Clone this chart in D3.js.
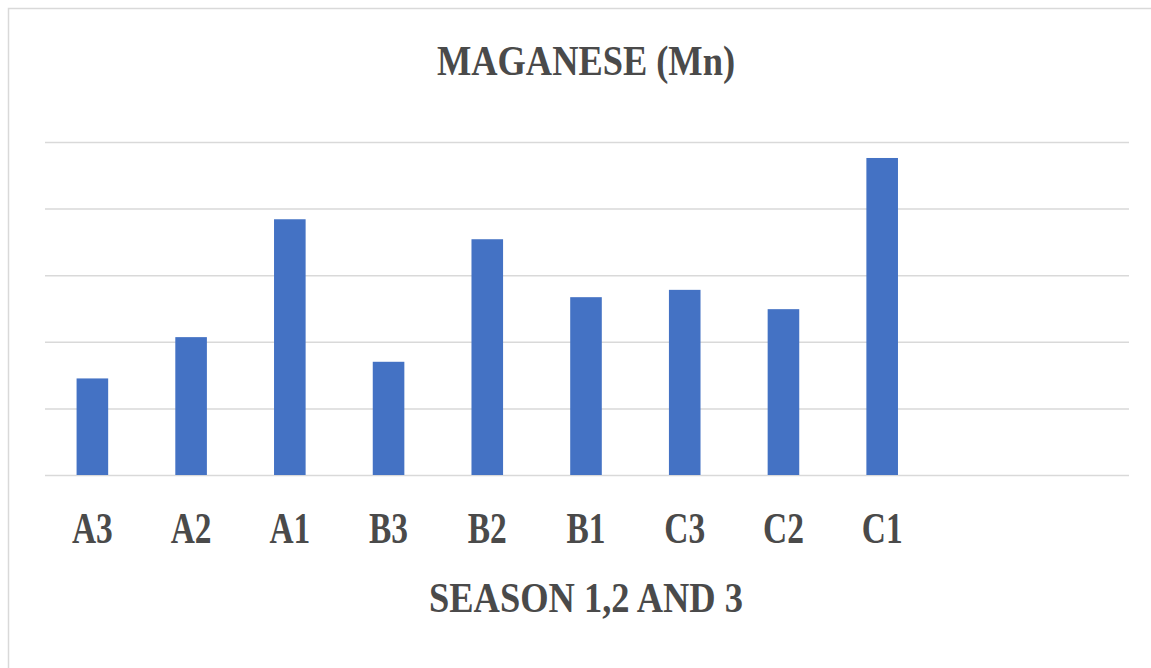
<!DOCTYPE html>
<html>
<head>
 <meta charset="UTF-8">
 <title>Maganese (Mn)</title>
 <script src="https://d3js.org/d3.v7.min.js"></script>
 <style>
  body { margin: 0; background: #fff; }
  text { font-family: "Liberation Serif", "Times New Roman", serif; font-weight: bold; fill: #4a4a4a; }
 </style>
</head>
<body>
	<script type="text/javascript">
		// values (grid step = 1 unit, no y labels shown)
		var categories = ["A3", "A2", "A1", "B3", "B2", "B1", "C3", "C2", "C1"];
		var values = [1.45, 2.07, 3.84, 1.70, 3.54, 2.67, 2.78, 2.49, 4.76];
		var yTicks = [0, 1, 2, 3, 4, 5];
		var slots = 11; // the category axis leaves two empty slots on the right

		var width = 1151;
		var height = 668;
		var plotLeft = 45, plotRight = 1129, plotTop = 142, plotBottom = 475;

		var svg = d3.select('body').append('svg')
			.attr('width', width)
			.attr('height', height);

		// chart frame
		svg.append('rect')
			.attr('x', 8.5).attr('y', 8.5)
			.attr('width', 1160).attr('height', 700)
			.attr('fill', '#fff')
			.attr('stroke', '#d9d9d9')
			.attr('stroke-width', 1.5);

		var x = d3.scaleBand()
			.domain(d3.range(slots))
			.range([plotLeft, plotRight])
			.paddingInner(0.68)
			.paddingOuter(0.33);

		var y = d3.scaleLinear()
			.domain([0, 5])
			.range([plotBottom, plotTop]);

		// gridlines
		var grid = svg.append('g')
			.attr('transform', 'translate(' + plotLeft + ',0)')
			.call(d3.axisLeft(y).tickValues(yTicks).tickSize(-(plotRight - plotLeft)).tickFormat(''));
		grid.select('.domain').remove();
		grid.selectAll('line').attr('stroke', '#d9d9d9').attr('stroke-width', 1.5);

		// bars
		svg.selectAll('rect.bar')
			.data(values)
			.enter()
			.append('rect')
			.attr('class', 'bar')
			.attr('x', function (d, i) { return x(i) - 1; })
			.attr('y', function (d) { return y(d); })
			.attr('width', x.bandwidth())
			.attr('height', function (d) { return y(0) - y(d); })
			.attr('fill', '#4472c4');

		// category labels
		var xAxis = svg.append('g')
			.attr('transform', 'translate(-1,' + plotBottom + ')')
			.call(d3.axisBottom(x).tickSize(0).tickPadding(0)
				.tickFormat(function (i) { return categories[i] || ''; }));
		xAxis.select('.domain').remove();
		xAxis.selectAll('text')
			.attr('y', 68)
			.attr('dy', 0)
			.attr('transform', 'scale(0.76,1)')
			.style('font-size', '44px')
			.style('font-family', '"Liberation Serif", serif')
			.attr('fill', '#4a4a4a');

		// title
		svg.append('text')
			.attr('x', 586)
			.attr('y', 75)
			.attr('text-anchor', 'middle')
			.attr('textLength', 298)
			.attr('lengthAdjust', 'spacingAndGlyphs')
			.style('font-size', '42px')
			.text('MAGANESE (Mn)');

		// axis title
		svg.append('text')
			.attr('x', 586)
			.attr('y', 612)
			.attr('text-anchor', 'middle')
			.attr('textLength', 314)
			.attr('lengthAdjust', 'spacingAndGlyphs')
			.style('font-size', '43px')
			.text('SEASON 1,2 AND 3');
	</script>
</body>
</html>
